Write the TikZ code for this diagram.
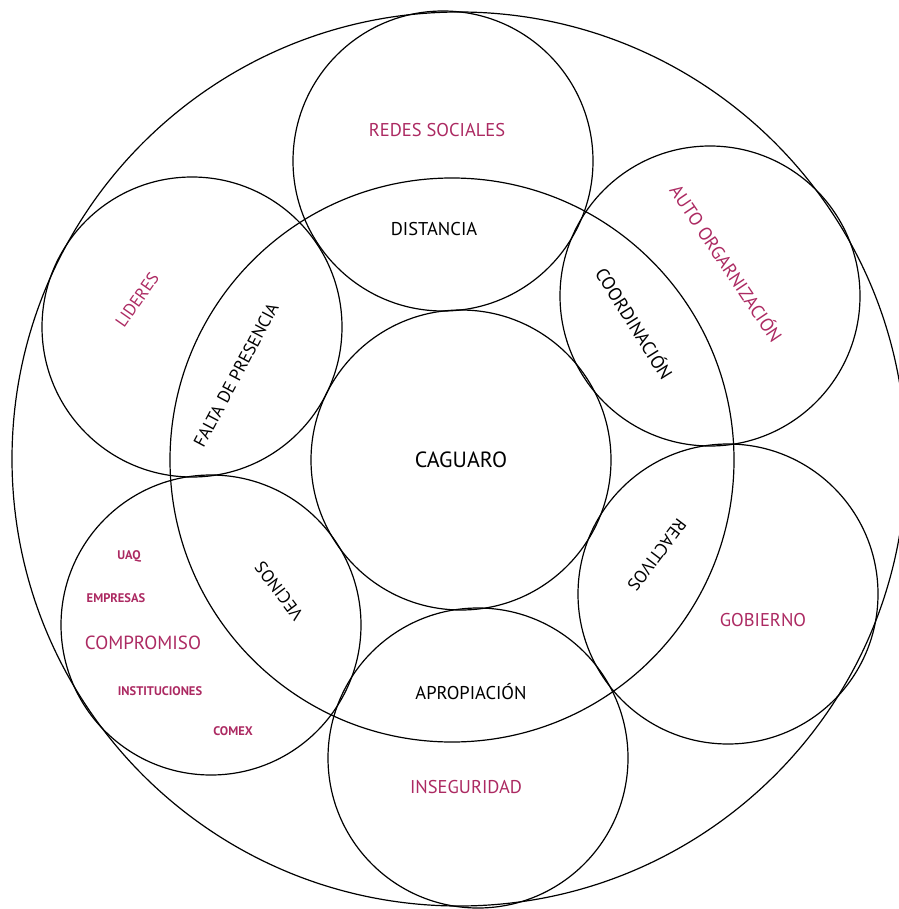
\documentclass[tikz,border=0pt]{standalone}
\usepackage{fontspec}
\setmainfont{PT Sans}
\usepackage{tikz}
\usetikzlibrary{positioning}
\definecolor{rosa}{RGB}{172,42,98}

\begin{document}
\begin{tikzpicture}[
      x=1pt, y=-1pt,
      ring/.style={draw, circle, line width=1.2pt, inner sep=0pt},
      key/.style={font=\fontsize{18.5}{18.5}\selectfont, text=black, inner sep=1pt},
      lbl/.style={font=\fontsize{18.5}{18.5}\selectfont, text=rosa, inner sep=1pt},
      tiny/.style={font=\fontsize{12.5}{12.5}\selectfont\bfseries, text=rosa, inner sep=1pt},
    ]
    \useasboundingbox (0,0) rectangle (898,909);
    % circles
    \node[ring, minimum size=894pt] (exterior) at (459,459) {};
    \node[ring, minimum size=564pt] (anillo) at (452,460) {};
    \node[ring, minimum size=300pt, font=\fontsize{22}{22}\selectfont] (centro) at (461,460) {CAGUARO};
    \node[ring, minimum size=300pt] (redes) at (443,161) {};
    \node[ring, minimum size=300pt] (auto) at (710,296) {};
    \node[ring, minimum size=300pt] (gobierno) at (728,594) {};
    \node[ring, minimum size=300pt] (inseguridad) at (478,758) {};
    \node[ring, minimum size=300pt] (compromiso) at (211,625) {};
    \node[ring, minimum size=300pt] (lideres) at (192,327) {};
    % texts of the ring
    \node[key] (distancia) at (434,229) {DISTANCIA};
    \node[key, rotate=-58] (coordinacion) at (635,323) {COORDINACIÓN};
    \node[key, rotate=233, font=\fontsize{17.5}{17.5}\selectfont] (reactivos) at (657,555) {REACTIVOS};
    \node[key] (apropiacion) at (471,692) {APROPIACIÓN};
    \node[key, rotate=127, font=\fontsize{17.5}{17.5}\selectfont] (vecinos) at (279,591) {VECINOS};
    \node[key, rotate=62, font=\fontsize{17.5}{17.5}\selectfont] (falta) at (236,375) {FALTA DE PRESENCIA};
    % texts of the outer circles
    \node[lbl] (tredes) at (437,130) {REDES SOCIALES};
    \node[lbl, rotate=-56] (tauto) at (727,263) {AUTO ORGARNIZACIÓN};
    \node[lbl] (tgobierno) at (763,620) {GOBIERNO};
    \node[lbl] (tinseguridad) at (466,787) {INSEGURIDAD};
    \node[lbl, rotate=55, font=\fontsize{17}{17}\selectfont] (tlideres) at (137,300) {LIDERES};
    \node[lbl, font=\fontsize{19}{19}\selectfont] (tcompromiso) at (143,643) {COMPROMISO};
    \node[tiny] (uaq) at (129,556) {UAQ};
    \node[tiny] (empresas) at (116,598) {EMPRESAS};
    \node[tiny] (instituciones) at (160,691) {INSTITUCIONES};
    \node[tiny] (comex) at (233,731) {COMEX};
  \end{tikzpicture}
\end{document}
